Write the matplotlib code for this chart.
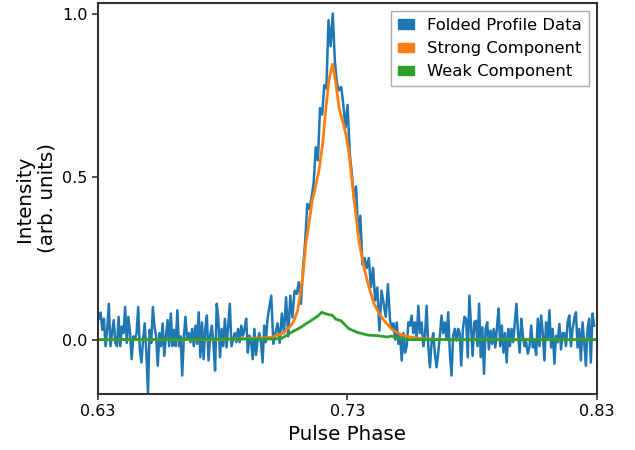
import numpy as np
import matplotlib.pyplot as plt
from matplotlib.patches import Patch

# --- folded profile in segments ---
seg_bounds = [(0.6305, 0.6658), (0.6665, 0.6980), (0.6995, 0.7471),
              (0.7478, 0.7744), (0.7750, 0.8023), (0.8030, 0.8289)]

seg1 = [0.064, 0.083, 0.03, 0.064, -0.02, 0.03, 0.11, -0.02, 0.02, 0.06,
        -0.01, -0.02, 0.07, -0.02, 0.04, 0.02, 0.10, -0.01, 0.07, 0.02,
        -0.06, 0.01, 0.0, 0.02, 0.10, -0.03, -0.07, 0.0, 0.05, -0.04,
        -0.165, 0.03, -0.01, 0.10, 0.04, 0.01, -0.08, 0.02, -0.02, 0.05,
        -0.05, 0.01, 0.06, -0.02, 0.08, -0.02, 0.03, -0.02, 0.09, -0.02,
        0.01, -0.11, 0.01, 0.07, 0.0]
seg2 = [0.02, -0.008, 0.033, -0.02, 0.043, -0.013, 0.084, -0.054, 0.053, -0.06,
        0.033, 0.074, -0.064, 0.012, 0.043, -0.013, -0.095, 0.11, 0.064, -0.054,
        0.033, -0.02, 0.064, -0.024, 0.043, 0.11, -0.02, 0.0, 0.02, -0.008,
        0.033, -0.008, 0.043, 0.012, 0.033, 0.064, -0.04, 0.012, -0.008, -0.06,
        0.033, -0.047, 0.0, 0.02, -0.008, -0.07, 0.043, -0.008, 0.064]
seg3 = [0.135, -0.013, 0.02, 0.05, -0.01, 0.08, 0.02, 0.13, 0.01, 0.135,
        0.068, 0.15, 0.14, 0.176, 0.11, 0.22, 0.30, 0.416, 0.40, 0.436,
        0.48, 0.59, 0.55, 0.71, 0.69, 0.78, 0.77, 0.98, 0.90, 1.0,
        0.855, 0.785, 0.765, 0.775, 0.72, 0.65, 0.72, 0.57, 0.51, 0.43,
        0.47, 0.32, 0.38, 0.23, 0.25, 0.22, 0.25, 0.16, 0.22, 0.12,
        0.16, 0.028, 0.15, 0.11, 0.07, 0.17, 0.06]
seg4 = [0.033, 0.05, 0.0, 0.053, -0.013, 0.012, -0.064, 0.02, -0.04, -0.02,
        0.053, 0.043, 0.074, 0.02, 0.053, 0.0, 0.104, 0.02, 0.053, -0.02,
        0.012, 0.104, -0.02, -0.085, -0.008, 0.02, -0.043, -0.085, -0.04, 0.012,
        0.074, 0.02, 0.053, 0.0, 0.084, -0.04, -0.11, 0.012, 0.033, -0.003,
        0.033]
seg5 = [0.02, -0.08, 0.033, 0.07, 0.064, -0.054, 0.135, 0.043, -0.05, 0.053,
        0.058, -0.02, 0.11, -0.054, 0.038, -0.105, 0.033, 0.053, -0.03, 0.028,
        -0.013, 0.033, -0.024, 0.038, 0.095, -0.02, 0.043, -0.04, 0.02, -0.07,
        0.033, -0.02, 0.033, -0.008, 0.053, 0.11, 0.02, -0.04, 0.064, 0.012,
        -0.02, -0.008, -0.043]
seg6 = [-0.02, 0.043, -0.024, -0.008, -0.047, 0.064, -0.02, 0.074, 0.02, -0.064,
        0.053, 0.0, 0.09, -0.024, 0.033, -0.074, 0.012, -0.008, 0.048, -0.03,
        0.02, 0.02, -0.02, 0.053, 0.074, -0.02, 0.033, 0.064, 0.084, -0.024,
        0.033, -0.064, 0.053, -0.008, -0.08, 0.033, 0.064, -0.07, 0.08, 0.043]
segments = [seg1, seg2, seg3, seg4, seg5, seg6]

# --- model components ---
strong_phase = [0.630, 0.675, 0.685, 0.692, 0.6995, 0.7039, 0.7074, 0.7086, 0.7101,
                0.7113, 0.7121, 0.7133, 0.7148, 0.7159, 0.7170, 0.7186, 0.7201,
                0.7214, 0.7227, 0.7241, 0.7254, 0.7267, 0.7281, 0.7294, 0.7307,
                0.7321, 0.7334, 0.7347, 0.7367, 0.7387, 0.7407, 0.7427, 0.7454,
                0.7484, 0.7511, 0.7538, 0.7577, 0.7617, 0.770, 0.830]
strong_val = [0.0, 0.0, 0.002, 0.004, 0.007, 0.018, 0.043, 0.058, 0.089,
              0.15, 0.19, 0.29, 0.365, 0.426, 0.46, 0.518, 0.60,
              0.71, 0.80, 0.845, 0.785, 0.71, 0.67, 0.63, 0.57,
              0.47, 0.385, 0.30, 0.22, 0.16, 0.11, 0.08, 0.052,
              0.028, 0.017, 0.010, 0.005, 0.002, 0.0, 0.0]

weak_phase = [0.630, 0.700, 0.7035, 0.7075, 0.7114, 0.7133, 0.7154, 0.7181, 0.7198,
              0.7214, 0.7241, 0.7253, 0.7274, 0.7307, 0.7341, 0.7381, 0.7421,
              0.7459, 0.7478, 0.7504, 0.755, 0.830]
weak_val = [0.0, 0.002, 0.003, 0.022, 0.038, 0.048, 0.058, 0.072, 0.084,
            0.079, 0.074, 0.063, 0.058, 0.033, 0.022, 0.014, 0.012,
            0.008, 0.011, 0.003, 0.0, 0.0]

blue, orange, green = '#1f77b4', '#ff7f0e', '#2ca02c'

phase, profile = [], []
for (p0, p1), vals in zip(seg_bounds, segments):
    phase.extend(np.linspace(p0, p1, len(vals)))
    profile.extend(vals)

fig = plt.figure(figsize=(6.35, 4.5), dpi=100)
ax = fig.add_axes([0.154, 0.125, 0.786, 0.868])

ax.plot(phase, profile, color=blue, lw=1.8)
ax.plot(strong_phase, strong_val, color=orange, lw=2)
ax.plot(weak_phase, weak_val, color=green, lw=2)

ax.set_xlim(0.63, 0.83)
ax.set_ylim(-0.166, 1.032)
ax.set_xticks([0.63, 0.73, 0.83])
ax.set_xticklabels(['0.63', '0.73', '0.83'])
ax.set_yticks([0.0, 0.5, 1.0])
ax.set_yticklabels(['0.0', '0.5', '1.0'])
ax.tick_params(labelsize=11.5, length=4, width=1.2, color='#333333')
for sp in ax.spines.values():
    sp.set_color('#333333')
    sp.set_linewidth(1.5)

ax.set_xlabel('Pulse Phase', fontsize=14.3)
ax.set_ylabel('Intensity\n(arb. units)', fontsize=14.3)

handles = [Patch(color=blue, label='Folded Profile Data'),
           Patch(color=orange, label='Strong Component'),
           Patch(color=green, label='Weak Component')]
ax.legend(handles=handles, loc='upper right', fontsize=11.8, fancybox=False,
          edgecolor='#aaaaaa', framealpha=1, handlelength=1.0, handleheight=0.5)

fig.savefig('out.png', dpi=100)
